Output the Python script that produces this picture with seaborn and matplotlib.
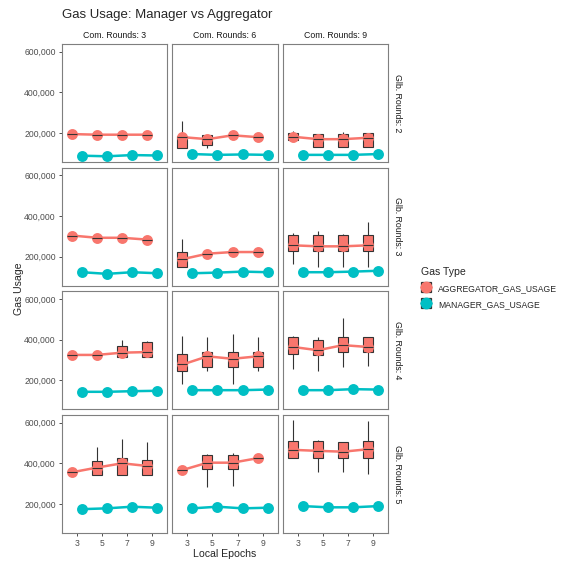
import pandas as pd
import seaborn as sns
import matplotlib.pyplot as plt
from matplotlib.lines import Line2D
from matplotlib.legend_handler import HandlerTuple
from matplotlib.ticker import FuncFormatter

# facetas e categorias
epochs = [3, 5, 7, 9]
glb_rounds = [2, 3, 4, 5]
com_rounds = [3, 6, 9]
gas_types = ['AGGREGATOR_GAS_USAGE', 'MANAGER_GAS_USAGE']

# valores em milhares de gas: [glb][com][epoch]
manager_gas = [
    [[89, 86, 92, 90], [97, 93, 95, 93], [93, 93, 93, 97]],
    [[124, 116, 124, 119], [119, 122, 127, 124], [124, 124, 127, 131]],
    [[144, 144, 147, 149], [152, 152, 152, 155], [152, 152, 157, 155]],
    [[175, 179, 187, 182], [179, 187, 179, 182], [190, 184, 184, 190]],
]
aggregator_mean = [
    [[195, 192, 192, 192], [180, 170, 189, 180], [182, 170, 170, 177]],
    [[304, 293, 293, 284], [188, 215, 223, 223], [256, 251, 251, 256]],
    [[325, 325, 336, 339], [278, 318, 306, 318], [364, 348, 373, 364]],
    [[356, 379, 400, 387], [367, 403, 403, 425], [466, 461, 457, 469]],
]
# estatisticas das caixas do agregador (None = caixa colapsada)
N4 = [None] * 4
aggregator_lo = [
    [N4, [126, 126, None, None], [168, 130, 130, 130]],
    [N4, [152, None, None, None], [165, 152, 149, 152]],
    [[None, None, 315, 315], [182, 248, 182, 248], [256, 248, 265, 270]],
    [[None, 343, 343, 343], [None, 285, 289, None], [425, 356, 356, 348]],
]
aggregator_q1 = [
    [N4, [126, 143, None, None], [168, 130, 130, 130]],
    [N4, [152, None, None, None], [226, 226, 226, 229]],
    [[None, None, 315, 315], [248, 265, 265, 268], [331, 326, 339, 339]],
    [[None, 343, 343, 343], [None, 370, 370, None], [428, 428, 428, 428]],
]
aggregator_q3 = [
    [N4, [188, 192, None, None], [200, 195, 195, 198]],
    [N4, [223, None, None, None], [309, 309, 306, 306]],
    [[None, None, 368, 386], [331, 339, 339, 339], [411, 398, 411, 411]],
    [[None, 411, 425, 416], [None, 441, 441, None], [510, 510, 506, 510]],
]
aggregator_hi = [
    [N4, [257, 192, None, None], [211, 195, 205, 198]],
    [N4, [289, None, None, None], [317, 326, 312, 372]],
    [[None, None, 398, 393], [419, 411, 426, 411], [419, 414, 505, 414]],
    [[None, 479, 518, 503], [None, 446, 449, None], [613, 515, 506, 610]],
]

cores = {'AGGREGATOR_GAS_USAGE': '#F8766D', 'MANAGER_GAS_USAGE': '#00BFC4'}

# monta os DataFrames
linhas_box = []
linhas_pt = []
for gi, g in enumerate(glb_rounds):
    for ci, c in enumerate(com_rounds):
        for ei, e in enumerate(epochs):
            m = aggregator_mean[gi][ci][ei]
            linhas_pt.append((g, c, e, gas_types[0], m * 1000))
            linhas_pt.append((g, c, e, gas_types[1], manager_gas[gi][ci][ei] * 1000))
            q1 = aggregator_q1[gi][ci][ei]
            if q1 is None:
                vals = [m] * 5
            else:
                q3 = aggregator_q3[gi][ci][ei]
                med = min(max(m, q1), q3)
                vals = [aggregator_lo[gi][ci][ei], q1, med, q3, aggregator_hi[gi][ci][ei]]
            for v in vals:
                linhas_box.append((g, c, e, gas_types[0], v * 1000))

cols = ['glb', 'com', 'epoch', 'type', 'gas']
df_box = pd.DataFrame(linhas_box, columns=cols)
df_pt = pd.DataFrame(linhas_pt, columns=cols)

sns.set_theme(style='white')
plt.rcParams['font.family'] = ['Liberation Sans', 'DejaVu Sans']

W, H = 575, 562
fig, axes = plt.subplots(4, 3, figsize=(W / 100, H / 100), dpi=100, sharex=True, sharey=True)
fig.subplots_adjust(left=62 / W, right=388 / W, top=1 - 44 / H, bottom=1 - 533 / H,
                    wspace=0.052, hspace=0.048)

for gi, g in enumerate(glb_rounds):
    for ci, c in enumerate(com_rounds):
        ax = axes[gi, ci]
        sub_box = df_box[(df_box['glb'] == g) & (df_box['com'] == c)]
        sub_pt = df_pt[(df_pt['glb'] == g) & (df_pt['com'] == c)]
        sns.boxplot(data=sub_box, x='epoch', y='gas', hue='type', hue_order=gas_types,
                    order=epochs, palette=cores, width=0.8, gap=0, whis=(0, 100),
                    dodge=True, linecolor='#333333', linewidth=0.8, fliersize=0,
                    showcaps=False, saturation=1, legend=False, ax=ax)
        sns.pointplot(data=sub_pt, x='epoch', y='gas', hue='type', hue_order=gas_types,
                      order=epochs, palette=cores, dodge=0.4, errorbar=None,
                      markers='o', markersize=6.5, linewidth=1.8, legend=False, ax=ax)
        ax.set_xlim(-0.6, 3.6)
        ax.set_ylim(58000, 637000)
        ax.set_xlabel('')
        ax.set_ylabel('')
        ax.set_yticks([200000, 400000, 600000])
        ax.yaxis.set_major_formatter(FuncFormatter(lambda v, p: f'{int(v):,}'))
        for s in ax.spines.values():
            s.set_visible(True)
            s.set_color('#7f7f7f')
            s.set_linewidth(0.8)
        ax.tick_params(axis='both', labelsize=6.2, labelcolor='#4d4d4d', color='#333333',
                       length=2.5, width=0.6, pad=2,
                       left=(ci == 0), bottom=(gi == len(glb_rounds) - 1))
        if gi == 0:
            ax.set_title(f'Com. Rounds: {c}', fontsize=6.3, pad=4, color='#1a1a1a')
        if ci == len(com_rounds) - 1:
            ax.text(1.045, 0.5, f'Glb. Rounds: {g}', rotation=-90, transform=ax.transAxes,
                    va='center', ha='left', fontsize=6.3, color='#1a1a1a')

fig.text(62 / W, 1 - 15 / H, 'Gas Usage: Manager vs Aggregator', va='center', ha='left',
         fontsize=9.5)
fig.text(225 / W, 1 - 554 / H, 'Local Epochs', ha='center', va='center', fontsize=7.6)
fig.text(19 / W, 1 - 289 / H, 'Gas Usage', ha='center', va='center', rotation=90,
         fontsize=7.6)

handles = [(Line2D([], [], color='#333333', marker='s', markersize=6.5,
                   markerfacecolor=cores[t], markeredgewidth=0.9, linestyle='none'),
            Line2D([], [], color=cores[t], marker='o', markersize=7.5, linewidth=1.8))
           for t in gas_types]
fig.legend(handles, gas_types, title='Gas Type', loc='upper left',
           bbox_to_anchor=(413 / W, 1 - 259 / H), frameon=False, fontsize=6.2,
           title_fontsize=7.6, handler_map={tuple: HandlerTuple(ndivide=1)},
           handlelength=1.2, handleheight=1.3, handletextpad=0.8, alignment='left',
           labelspacing=0.75)

plt.savefig('out.png', dpi=100)
